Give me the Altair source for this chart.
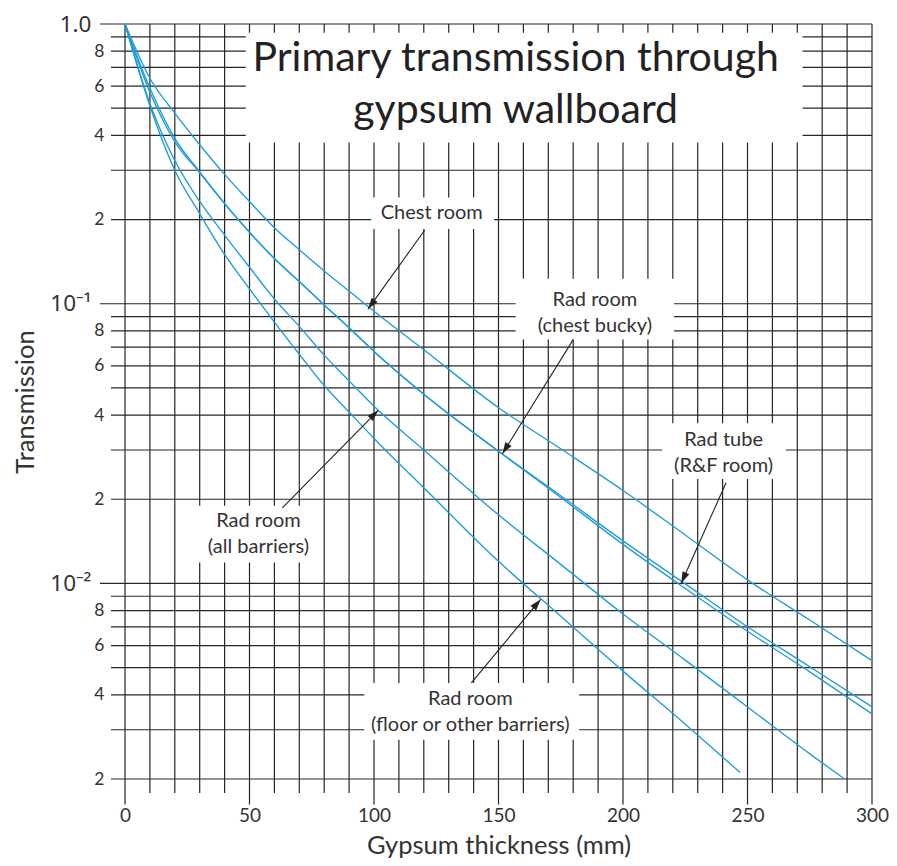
import math
import altair as alt
import pandas as pd

# ---------------- data ----------------
thick_std = [0, 10, 20, 30, 40, 50, 60, 70, 80, 90, 100, 120, 150, 175, 200, 225, 250, 275, 300]
trans_chest = [1.0, 0.64, 0.48, 0.37, 0.29, 0.232, 0.187, 0.156, 0.131, 0.111, 0.094, 0.0685,
               0.0425, 0.0303, 0.0215, 0.0149, 0.0103, 0.0074, 0.0053]
trans_tube = [1.0, 0.59, 0.39, 0.296, 0.228, 0.18, 0.145, 0.12, 0.099, 0.082, 0.0675, 0.0475,
              0.0297, 0.0206, 0.0142, 0.00997, 0.0070, 0.00504, 0.00362]
trans_bucky = [1.0, 0.57, 0.38, 0.294, 0.228, 0.18, 0.145, 0.12, 0.099, 0.082, 0.0675, 0.0475,
               0.0297, 0.0203, 0.0138, 0.0096, 0.00675, 0.00483, 0.00342]
thick_all = [0, 10, 20, 30, 40, 50, 60, 70, 80, 90, 100, 120, 150, 175, 200, 225, 250, 275, 289]
trans_all = [1.0, 0.52, 0.325, 0.232, 0.176, 0.135, 0.104, 0.083, 0.0655, 0.053, 0.043, 0.030,
             0.0176, 0.0117, 0.00778, 0.00532, 0.00362, 0.00246, 0.0020]
thick_floor = [0, 10, 20, 30, 40, 50, 60, 70, 80, 90, 100, 120, 150, 175, 200, 225, 247]
trans_floor = [1.0, 0.51, 0.30, 0.21, 0.150, 0.113, 0.086, 0.066, 0.051, 0.041, 0.033, 0.022,
               0.012, 0.00764, 0.00486, 0.00314, 0.00211]

# grid / ticks
x_grid = list(range(0, 301, 10))
x_label_values = [0, 50, 100, 150, 200, 250, 300]
y_grid = [1.0] + [round(m * 10.0 ** e, 6) for e in (-1, -2, -3) for m in range(9, 1, -1)] + [0.1, 0.01]
y_label_values = [1.0, 0.8, 0.6, 0.4, 0.2, 0.1, 0.08, 0.06, 0.04, 0.02,
                  0.01, 0.008, 0.006, 0.004, 0.002]

# white knock-out boxes behind the annotations (data units)
box_x1 = [48.5, 98.9, 156.9, 215.7, 21.9, 96.1]
box_x2 = [272.1, 148.2, 220.5, 265.4, 78.3, 182.4]
box_t1 = [0.93, 0.240, 0.1228, 0.0374, 0.01895, 0.00441]
box_t2 = [0.377, 0.185, 0.0745, 0.02364, 0.01188, 0.00276]

# annotation labels
lab_x = [123.2, 188.7, 240.4, 53.6, 138.7]
lab_t = [0.2007, 0.0984, 0.031, 0.01586, 0.00368]
lab_text = ["Chest room", "Rad room\n(chest bucky)", "Rad tube\n(R&F room)",
            "Rad room\n(all barriers)", "Rad room\n(floor or other barriers)"]

# arrows (start -> tip)
arr_x0 = [120.4, 180.0, 241.4, 63.2, 139.1]
arr_t0 = [0.1834, 0.0744, 0.02293, 0.01864, 0.00441]
arr_x1 = [97.6, 151.6, 223.4, 101.7, 166.9]
arr_t1 = [0.0957, 0.0291, 0.01002, 0.0416, 0.00877]

title_lines = "Primary transmission through\ngypsum wallboard"
title_x, title_t = 156.9, 0.679

# ---------------- layout / style ----------------
W, H = 747, 755
XMIN, XMAX = 0, 300
YMIN, YMAX = 0.002, 1.0
BLUE = "#1f9cd8"
GRID = "#262626"
TEXT = "#333333"
FONT = "Lato"

xscale = alt.Scale(domain=[XMIN, XMAX], nice=False, zero=False)
yscale = alt.Scale(type="log", domain=[YMIN, YMAX], nice=False, zero=False)

major_test = "datum.value >= 0.999 || abs(datum.value - 0.1) < 1e-9 || abs(datum.value - 0.01) < 1e-9"
y_label_expr = ("datum.value >= 0.999 ? '1.0' : abs(datum.value - 0.1) < 1e-9 ? '10\u207b\u00b9' : "
                "abs(datum.value - 0.01) < 1e-9 ? '10\u207b\u00b2' : "
                "format(datum.value / pow(10, floor(log(datum.value) / LN10 + 1e-9)), '.0f')")

xaxis = alt.Axis(values=x_label_values, format="d", ticks=False, domain=False, grid=False,
                 labelPadding=27, labelFontSize=19, labelFlush=False, labelOverlap=False,
                 title="Gypsum thickness (mm)", titleFontSize=25.5, titlePadding=8)
yaxis = alt.Axis(values=y_label_values, labelExpr=y_label_expr, ticks=False, domain=False, grid=False,
                 labelPadding={"condition": {"test": major_test, "value": 34}, "value": 21},
                 labelFontSize={"condition": {"test": major_test, "value": 22.5}, "value": 17.5},
                 labelFont={"condition": {"test": major_test, "value": "Noto Sans"}, "value": FONT},
                 labelFlush=False, labelOverlap=False,
                 title="Transmission", titleFontSize=25.5, titlePadding=11)


def X(field):
    return alt.X(f"{field}:Q", scale=xscale, axis=xaxis)


def Y(field):
    return alt.Y(f"{field}:Q", scale=yscale, axis=yaxis)


# extension of ticks beyond the plot, in data units
def t_below(px):
    return YMIN * 10 ** (-px / H * math.log10(YMAX / YMIN))


def x_left(px):
    return XMIN - px / W * (XMAX - XMIN)


vgrid = pd.DataFrame({
    "x": x_grid,
    "t_top": [YMAX] * len(x_grid),
    "t_bot": [t_below(25.6) if v % 50 == 0 else t_below(14) for v in x_grid],
})
y_major = [1.0, 0.1, 0.01]
hgrid = pd.DataFrame({
    "t": y_grid,
    "x_start": [x_left(25) if any(abs(v - m) < 1e-9 for m in y_major) else x_left(14) for v in y_grid],
    "x_end": [XMAX] * len(y_grid),
})

boxes = pd.DataFrame({"x1": box_x1, "x2": box_x2, "t1": box_t1, "t2": box_t2})

curves = pd.concat([
    pd.DataFrame({"series": "Chest room", "x": thick_std, "t": trans_chest}),
    pd.DataFrame({"series": "Rad tube (R&F room)", "x": thick_std, "t": trans_tube}),
    pd.DataFrame({"series": "Rad room (chest bucky)", "x": thick_std, "t": trans_bucky}),
    pd.DataFrame({"series": "Rad room (all barriers)", "x": thick_all, "t": trans_all}),
    pd.DataFrame({"series": "Rad room (floor or other barriers)", "x": thick_floor, "t": trans_floor}),
], ignore_index=True)


def sx(v):
    return (v - XMIN) / (XMAX - XMIN) * W


def sy(v):
    return math.log10(YMAX / v) / math.log10(YMAX / YMIN) * H


angles = []
for a, b, c, d in zip(arr_x0, arr_t0, arr_x1, arr_t1):
    dx = sx(c) - sx(a)
    dy = sy(d) - sy(b)
    angles.append(math.degrees(math.atan2(dx, -dy)) % 360)

arrows = pd.DataFrame({"x0": arr_x0, "t0": arr_t0, "x1": arr_x1, "t1": arr_t1, "angle": angles})
labels = pd.DataFrame({"x": lab_x, "t": lab_t, "text": lab_text})
title_df = pd.DataFrame({"x": [title_x], "t": [title_t], "text": [title_lines]})

# ---------------- layers ----------------
v_layer = alt.Chart(vgrid).mark_rule(color=GRID, strokeWidth=1.2).encode(
    x=X("x"), y=Y("t_top"), y2="t_bot:Q")
h_layer = alt.Chart(hgrid).mark_rule(color=GRID, strokeWidth=1.2).encode(
    y=Y("t"), x=X("x_start"), x2="x_end:Q")
box_layer = alt.Chart(boxes).mark_rect(color="white").encode(
    x=X("x1"), x2="x2:Q", y=Y("t1"), y2="t2:Q")
curve_layer = alt.Chart(curves).mark_line(strokeWidth=1.35, interpolate="monotone", color=BLUE).encode(
    x=X("x"), y=Y("t"), detail="series:N")
arrow_line = alt.Chart(arrows).mark_rule(color="#222222", strokeWidth=1.1).encode(
    x=X("x0"), y=Y("t0"), x2="x1:Q", y2="t1:Q")
arrow_head = alt.Chart(arrows).mark_point(
    shape="M0,0L-0.65,2L0.65,2Z", filled=True, color="#222222", opacity=1, size=130, strokeWidth=0
).encode(x=X("x1"), y=Y("t1"), angle=alt.Angle("angle:Q", scale=None))
label_layer = alt.Chart(labels).mark_text(
    font=FONT, fontSize=20, color=TEXT, align="center", baseline="alphabetic",
    lineBreak="\n", lineHeight=26
).encode(x=X("x"), y=Y("t"), text="text:N")
title_layer = alt.Chart(title_df).mark_text(
    font=FONT, fontSize=41, color="#222222", align="center", baseline="alphabetic",
    lineBreak="\n", lineHeight=52
).encode(x=X("x"), y=Y("t"), text="text:N")

chart = alt.layer(
    v_layer, h_layer, box_layer, curve_layer, arrow_line, arrow_head, label_layer, title_layer
).properties(
    width=W, height=H,
    autosize=alt.AutoSizeParams(type="none"),
    padding={"left": 117, "top": 16, "right": 17, "bottom": 79},
).configure_view(strokeWidth=0).configure_axis(
    labelFont=FONT, titleFont=FONT, labelColor=TEXT, titleColor=TEXT, titleFontWeight="normal"
)

chart.save("out.html", embed_options={"renderer": "svg", "actions": False})
